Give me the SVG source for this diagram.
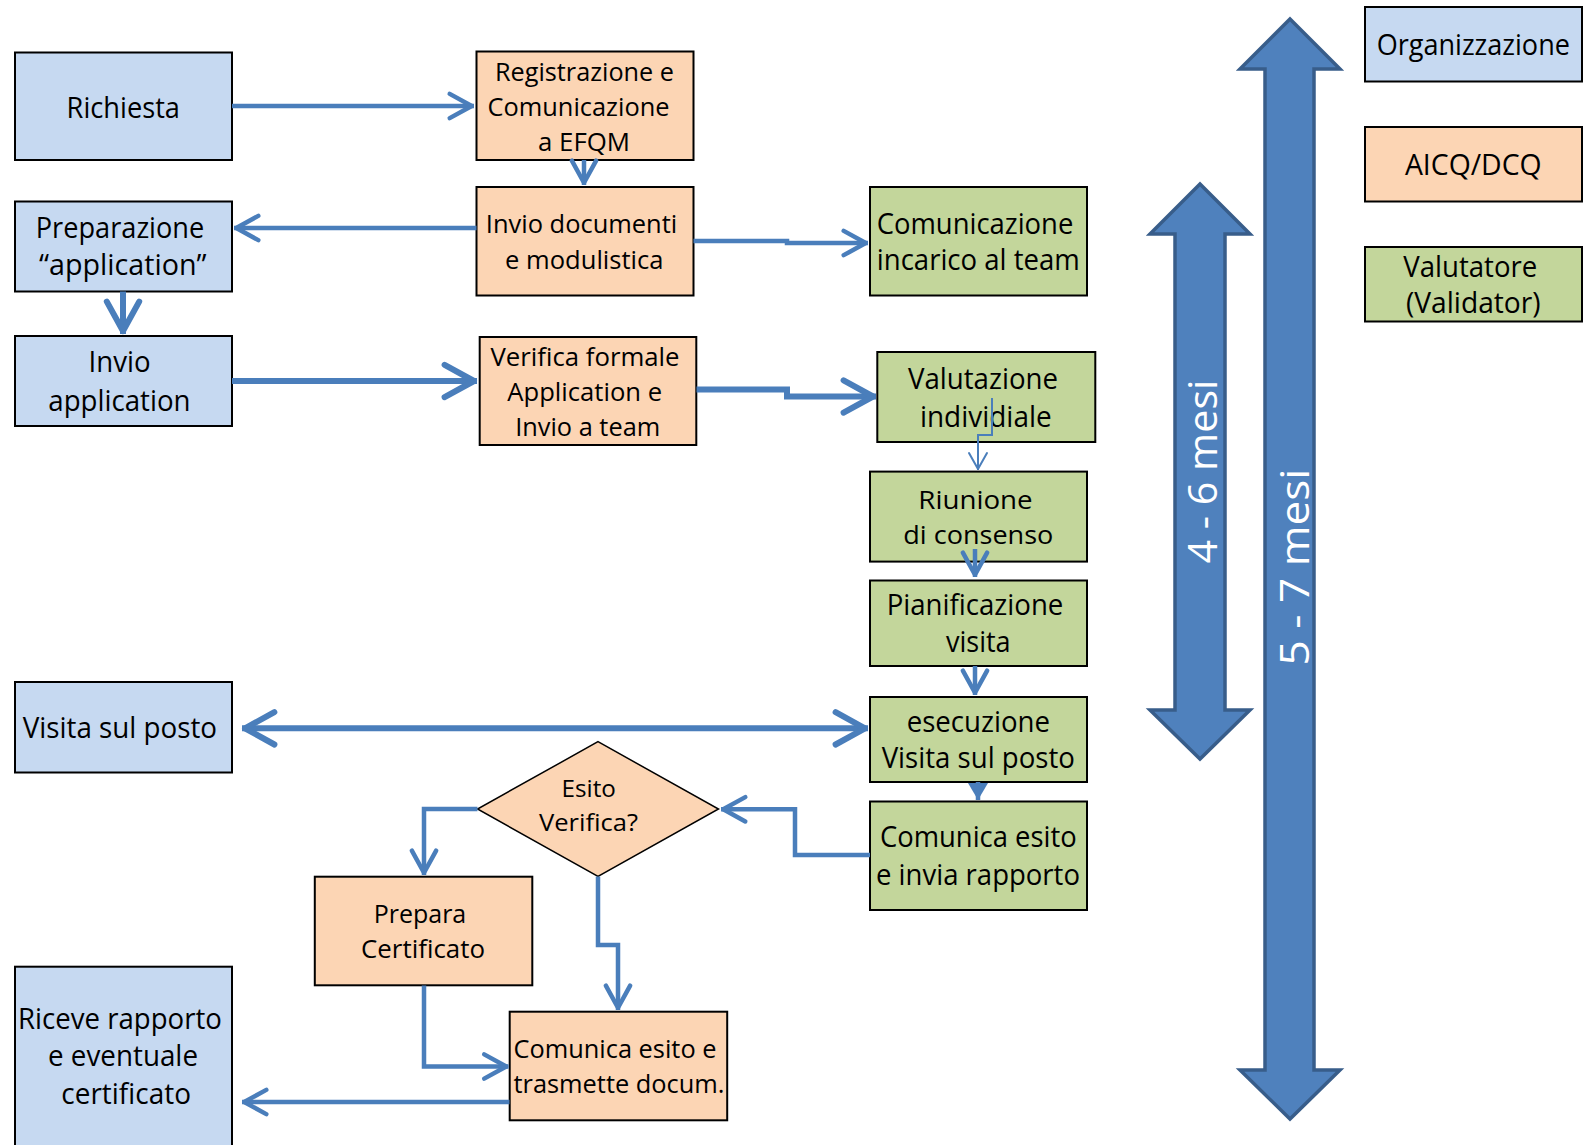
<svg xmlns="http://www.w3.org/2000/svg" width="1587" height="1145" viewBox="0 0 1587 1145">
<style>
.box{stroke:#000;stroke-width:2}
.org{fill:#C6D9F1}
.aicq{fill:#FCD5B4}
.val{fill:#C3D69B}
.t{font-family:"Open Sans","Liberation Sans",sans-serif;font-size:29px;fill:#000;text-anchor:middle}
.n{font-size:26px}
.s{font-size:23px}
.w{font-family:"Open Sans","Liberation Sans",sans-serif;font-size:40px;fill:#fff;text-anchor:middle}
.c{fill:none;stroke:#4A7EBB;stroke-width:4.5;stroke-linejoin:miter}
.k{stroke-width:6}
.big{fill:#4F81BD;stroke:#385D8A;stroke-width:3.5}
</style>
<defs>
<marker id="a" markerUnits="strokeWidth" markerWidth="10" markerHeight="10" refX="0.5" refY="0" orient="auto-start-reverse" overflow="visible">
<path d="M-4.9,-2.7 L0,0 L-4.9,2.7" fill="none" stroke="#4A7EBB" stroke-width="1" stroke-linecap="round" stroke-linejoin="round"/>
</marker>
<marker id="th" markerUnits="userSpaceOnUse" markerWidth="20" markerHeight="20" refX="1" refY="0" orient="auto" overflow="visible">
<path d="M-16,-9 L0,0 L-16,9" fill="none" stroke="#4A7EBB" stroke-width="2" stroke-linecap="round" stroke-linejoin="round"/>
</marker>
<marker id="tri" markerUnits="userSpaceOnUse" markerWidth="30" markerHeight="30" refX="0" refY="0" orient="auto" overflow="visible">
<path d="M-17,-10 L0,0 L-17,10 Z" fill="#4A7EBB"/>
</marker>
</defs>

<g id="timeline-arrows">
<path class="big" d="M1290,19 L1340,69 L1314,69 L1314,1070 L1340,1070 L1290,1119 L1240,1070 L1265,1070 L1265,69 L1240,69 Z"/>
<path class="big" d="M1200,184 L1250,234 L1225,234 L1225,710 L1250,710 L1200,759 L1150,710 L1175,710 L1175,234 L1150,234 Z"/>
<text class="w" transform="translate(1217,471.5) rotate(-90)" textLength="184" lengthAdjust="spacingAndGlyphs">4 - 6 mesi</text>
<text class="w" transform="translate(1309,567) rotate(-90)" textLength="197" lengthAdjust="spacingAndGlyphs">5 - 7 mesi</text>
</g>

<g id="n-richiesta">
<rect class="box org" x="15" y="52.5" width="217" height="107.5"/>
<text class="t" x="123.3" y="117.7" textLength="113.4" lengthAdjust="spacingAndGlyphs">Richiesta</text>
</g>
<g id="n-registrazione">
<rect class="box aicq" x="476.5" y="51.5" width="217" height="108.5"/>
<text class="t n" x="584.5" y="81" textLength="179" lengthAdjust="spacingAndGlyphs">Registrazione e</text>
<text class="t n" x="578.5" y="116" textLength="182" lengthAdjust="spacingAndGlyphs">Comunicazione</text>
<text class="t n" x="584" y="150.5" textLength="92" lengthAdjust="spacingAndGlyphs">a EFQM</text>
</g>
<g id="n-invio-documenti">
<rect class="box aicq" x="476.5" y="187" width="217" height="108.5"/>
<text class="t n" x="581.5" y="233.3" textLength="191.4" lengthAdjust="spacingAndGlyphs">Invio documenti</text>
<text class="t n" x="584.3" y="268.7" textLength="158.4" lengthAdjust="spacingAndGlyphs">e modulistica</text>
</g>
<g id="n-preparazione">
<rect class="box org" x="15" y="201.5" width="217" height="90"/>
<text class="t" x="120" y="238" textLength="168.5" lengthAdjust="spacingAndGlyphs">Preparazione</text>
<text class="t" x="122.8" y="275" textLength="167.6" lengthAdjust="spacingAndGlyphs">“application”</text>
</g>
<g id="n-invio-application">
<rect class="box org" x="15" y="336" width="217" height="90"/>
<text class="t" x="119.6" y="372" textLength="62" lengthAdjust="spacingAndGlyphs">Invio</text>
<text class="t" x="119.4" y="410.7" textLength="142.3" lengthAdjust="spacingAndGlyphs">application</text>
</g>
<g id="n-verifica-formale">
<rect class="box aicq" x="479.7" y="337" width="216.6" height="108"/>
<text class="t n" x="585" y="365.7" textLength="189" lengthAdjust="spacingAndGlyphs">Verifica formale</text>
<text class="t n" x="584.7" y="401" textLength="154.7" lengthAdjust="spacingAndGlyphs">Application e</text>
<text class="t n" x="587.7" y="436" textLength="145" lengthAdjust="spacingAndGlyphs">Invio a team</text>
</g>
<g id="n-comunicazione-incarico">
<rect class="box val" x="870" y="187" width="217" height="108.5"/>
<text class="t" x="975" y="234" textLength="196.7" lengthAdjust="spacingAndGlyphs">Comunicazione</text>
<text class="t" x="978.3" y="270" textLength="203" lengthAdjust="spacingAndGlyphs">incarico al team</text>
</g>
<g id="n-valutazione">
<rect class="box val" x="877.3" y="352" width="218" height="90"/>
<text class="t" x="983" y="388.6" textLength="150" lengthAdjust="spacingAndGlyphs">Valutazione</text>
<text class="t" x="985.8" y="427" textLength="131.7" lengthAdjust="spacingAndGlyphs">individiale</text>
</g>
<g id="n-riunione">
<rect class="box val" x="870" y="471.6" width="217" height="90"/>
<text class="t n" x="975.5" y="508.7" textLength="114.3" lengthAdjust="spacingAndGlyphs">Riunione</text>
<text class="t n" x="978.3" y="544" textLength="150" lengthAdjust="spacingAndGlyphs">di consenso</text>
</g>
<g id="n-pianificazione">
<rect class="box val" x="870" y="580.5" width="217" height="85.5"/>
<text class="t" x="975" y="614.7" textLength="176.7" lengthAdjust="spacingAndGlyphs">Pianificazione</text>
<text class="t" x="978.3" y="652" textLength="64.7" lengthAdjust="spacingAndGlyphs">visita</text>
</g>
<g id="n-esecuzione">
<rect class="box val" x="870" y="697" width="217" height="85"/>
<text class="t" x="978.3" y="731.5" textLength="143.3" lengthAdjust="spacingAndGlyphs">esecuzione</text>
<text class="t" x="978.3" y="768" textLength="193.3" lengthAdjust="spacingAndGlyphs">Visita sul posto</text>
</g>
<g id="n-comunica-esito-rapporto">
<rect class="box val" x="870" y="801.5" width="217" height="108.5"/>
<text class="t" x="978.3" y="846.7" textLength="196.7" lengthAdjust="spacingAndGlyphs">Comunica esito</text>
<text class="t" x="978" y="885" textLength="204" lengthAdjust="spacingAndGlyphs">e invia rapporto</text>
</g>
<g id="n-visita">
<rect class="box org" x="15" y="682" width="217" height="90.5"/>
<text class="t" x="119.9" y="738.3" textLength="194.4" lengthAdjust="spacingAndGlyphs">Visita sul posto</text>
</g>
<g id="n-esito-verifica">
<path class="aicq" stroke="#000" stroke-width="1.5" d="M598,741.7 L718.5,809 L598,876.5 L477.5,809 Z"/>
<text class="t s" x="588.7" y="797.3" textLength="54.3" lengthAdjust="spacingAndGlyphs">Esito</text>
<text class="t s" x="588.5" y="830.7" textLength="99" lengthAdjust="spacingAndGlyphs">Verifica?</text>
</g>
<g id="n-prepara-certificato">
<rect class="box aicq" x="314.8" y="876.7" width="217.5" height="108.6"/>
<text class="t n" x="420" y="923.3" textLength="92.5" lengthAdjust="spacingAndGlyphs">Prepara</text>
<text class="t n" x="423" y="958.3" textLength="124" lengthAdjust="spacingAndGlyphs">Certificato</text>
</g>
<g id="n-comunica-trasmette">
<rect class="box aicq" x="509.7" y="1011.7" width="217.5" height="108.6"/>
<text class="t n" x="615" y="1058.3" textLength="203" lengthAdjust="spacingAndGlyphs">Comunica esito e</text>
<text class="t n" x="619" y="1093.3" textLength="211" lengthAdjust="spacingAndGlyphs">trasmette docum.</text>
</g>
<g id="n-riceve">
<rect class="box org" x="15" y="966.7" width="217" height="200"/>
<text class="t" x="120" y="1029.3" textLength="203.8" lengthAdjust="spacingAndGlyphs">Riceve rapporto</text>
<text class="t" x="123" y="1066" textLength="150" lengthAdjust="spacingAndGlyphs">e eventuale</text>
<text class="t" x="126.2" y="1104.3" textLength="129.7" lengthAdjust="spacingAndGlyphs">certificato</text>
</g>

<g id="legend-organizzazione">
<rect class="box org" x="1365" y="7" width="217" height="74.5"/>
<text class="t" x="1473.3" y="55" textLength="193.3" lengthAdjust="spacingAndGlyphs">Organizzazione</text>
</g>
<g id="legend-aicq">
<rect class="box aicq" x="1365" y="127" width="217" height="74.5"/>
<text class="t" x="1473.3" y="175" textLength="136.7" lengthAdjust="spacingAndGlyphs">AICQ/DCQ</text>
</g>
<g id="legend-valutatore">
<rect class="box val" x="1365" y="247" width="217" height="74.5"/>
<text class="t" x="1470.3" y="276.7" textLength="134" lengthAdjust="spacingAndGlyphs">Valutatore</text>
<text class="t" x="1473.3" y="313" textLength="134.7" lengthAdjust="spacingAndGlyphs">(Validator)</text>
</g>

<g id="connectors">
<path class="c" d="M232,106 H474" marker-end="url(#a)"/>
<path class="c" d="M584,160 V185" marker-end="url(#a)"/>
<path class="c" d="M476.5,228 H234" marker-end="url(#a)"/>
<path class="c" d="M693.5,241 H787 V243 H868" marker-end="url(#a)"/>
<path class="c k" d="M123,291.5 V334" marker-end="url(#a)"/>
<path class="c k" d="M232,381 H477" marker-end="url(#a)"/>
<path class="c k" d="M696.5,389.5 H787 V396.5 H876" marker-end="url(#a)"/>
<path class="c" style="stroke-width:2" d="M992,398 V435 H978 V470" marker-end="url(#th)"/>
<path class="c" d="M975,549 V577" marker-end="url(#a)"/>
<path class="c" d="M975,666 V695" marker-end="url(#a)"/>
<path class="c" d="M978,782 V800" marker-end="url(#tri)"/>
<path class="c k" d="M242,728.3 H868" marker-start="url(#a)" marker-end="url(#a)"/>
<path class="c" d="M870,855 H795 V809.3 H721" marker-end="url(#a)"/>
<path class="c" d="M477.5,809 H424 V875" marker-end="url(#a)"/>
<path class="c" d="M598,876.5 V945 H618 V1010" marker-end="url(#a)"/>
<path class="c" d="M424,985.5 V1066.5 H508.5" marker-end="url(#a)"/>
<path class="c" d="M509.5,1102 H242" marker-end="url(#a)"/>
</g>
</svg>
